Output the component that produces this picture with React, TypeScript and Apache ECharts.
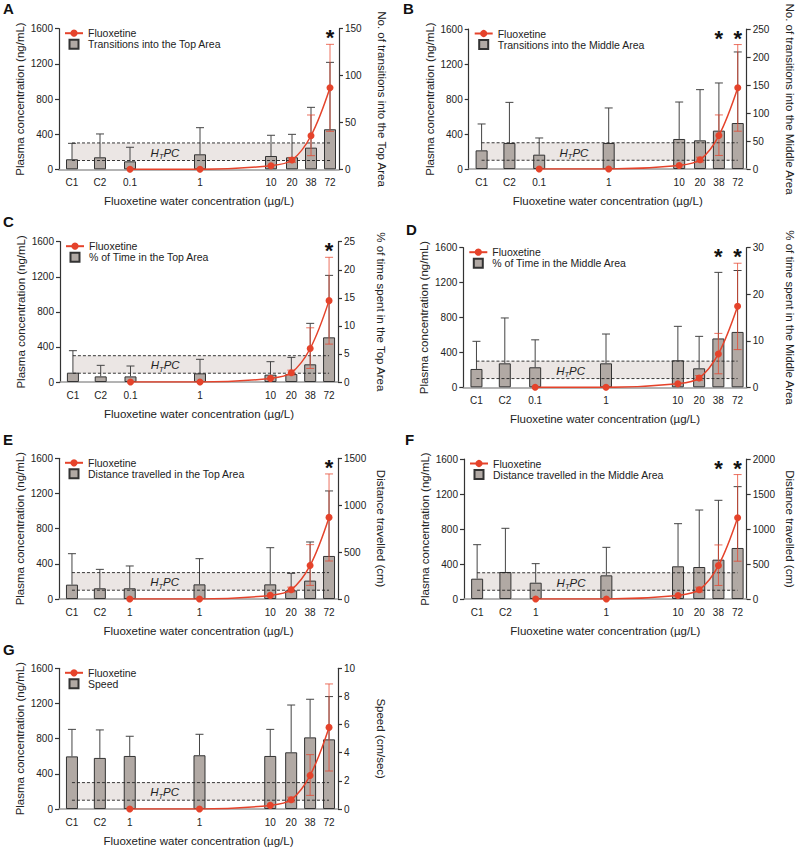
import React, { useEffect, useRef } from 'react';
import * as echarts from 'echarts';

// ---------- data ----------
const categories = ['C1', 'C2', '0.1', '1', '10', '20', '38', '72'];
const categoriesAlt = ['C1', 'C2', '1', '1', '10', '20', '38', '72'];
// position of each concentration group along the x axis (axis units 0..28)
const xPos = [1.3, 4.1, 7.1, 14.1, 21.2, 23.3, 25.2, 27.1];

const fluoxetine = [null, null, 0, 0, 41, 106, 382, 928];
const fluoxetineLow = [null, null, null, null, null, 80, 155, 432];
const fluoxetineHigh = [null, null, null, null, null, 135, 618, 1422];
const htpcRange = [100, 300];
const plasmaTicks = { min: 0, max: 1600, interval: 400 };

// A: transitions into the top area
const transTopMean = [10.7, 12.8, 8.5, 16, 14.2, 12.8, 23.1, 42.7];
const transTopUpper = [27.7, 37.7, 23.5, 44.4, 36.3, 37.3, 66.1, 114.1];
const transTopSig = ['72'];
// B: transitions into the middle area
const transMidMean = [33.3, 46.4, 25.6, 46.4, 53.6, 51.2, 68.5, 82.1];
const transMidUpper = [80.4, 119, 55.4, 109, 119.6, 141.7, 153.6, 209];
const transMidSig = ['38', '72'];
// C: % time in top area
const timeTopMean = [1.66, 1.0, 1.0, 1.54, 1.31, 1.43, 3.15, 7.96];
const timeTopUpper = [5.58, 2.97, 2.85, 4.04, 3.62, 4.39, 10.45, 19.0];
const timeTopSig = ['72'];
// D: % time in middle area
const timeMidMean = [3.94, 5.15, 4.3, 5.15, 5.8, 4.08, 10.5, 11.9];
const timeMidUpper = [9.88, 14.9, 10.2, 11.45, 13.1, 10.95, 24.7, 25.1];
const timeMidSig = ['38', '72'];
// E: distance travelled in top area
const distTopMean = [153, 114, 114, 156, 156, 92, 196, 459];
const distTopUpper = [483, 316, 352, 430, 547, 274, 608, 1152];
const distTopSig = ['72'];
// F: distance travelled in middle area
const distMidMean = [290, 386, 233, 338, 467, 457, 562, 729];
const distMidUpper = [776, 1010, 505, 738, 1076, 1271, 1410, 1605];
const distMidSig = ['38', '72'];
// G: speed
const speedMean = [3.74, 3.63, 3.77, 3.82, 3.77, 4.03, 5.09, 4.95];
const speedUpper = [5.66, 5.62, 5.17, 5.31, 5.66, 7.39, 7.8, 7.99];
const speedSig: string[] = [];

const panels = [
  { letter: 'A', labels: categories, mean: transTopMean, upper: transTopUpper, sig: transTopSig, rMax: 150, rInt: 50,
    rName: 'No. of transitions into the Top Area', legend: 'Transitions into the Top Area',
    grid: { left: 59, top: 28.7, width: 280, height: 140.6 }, lx: 3, ly: 1 },
  { letter: 'B', labels: categories, mean: transMidMean, upper: transMidUpper, sig: transMidSig, rMax: 250, rInt: 50,
    rName: 'No. of transitions into the Middle Area', legend: 'Transitions into the Middle Area',
    grid: { left: 468.7, top: 29, width: 278, height: 140 }, lx: 403, ly: 1 },
  { letter: 'C', labels: categories, mean: timeTopMean, upper: timeTopUpper, sig: timeTopSig, rMax: 25, rInt: 5,
    rName: '% of time spent in the Top Area', legend: '% of Time in the Top Area',
    grid: { left: 60, top: 241.7, width: 278, height: 140.3 }, lx: 3, ly: 214 },
  { letter: 'D', labels: categories, mean: timeMidMean, upper: timeMidUpper, sig: timeMidSig, rMax: 30, rInt: 10,
    rName: '% of time spent in the Middle Area', legend: '% of Time in the Middle Area',
    grid: { left: 463.3, top: 247.7, width: 283.4, height: 139.6 }, lx: 406, ly: 222 },
  { letter: 'E', labels: categoriesAlt, mean: distTopMean, upper: distTopUpper, sig: distTopSig, rMax: 1500, rInt: 500,
    rName: 'Distance travelled (cm)', legend: 'Distance travelled in the Top Area',
    grid: { left: 59, top: 458.3, width: 279, height: 140.7 }, lx: 3, ly: 432 },
  { letter: 'F', labels: categoriesAlt, mean: distMidMean, upper: distMidUpper, sig: distMidSig, rMax: 2000, rInt: 500,
    rName: 'Distance travelled (cm)', legend: 'Distance travelled in the Middle Area',
    grid: { left: 464, top: 459, width: 282.7, height: 140 }, lx: 405, ly: 432 },
  { letter: 'G', labels: categoriesAlt, mean: speedMean, upper: speedUpper, sig: speedSig, rMax: 10, rInt: 2,
    rName: 'Speed (cm/sec)', legend: 'Speed',
    grid: { left: 59, top: 668.3, width: 279, height: 140.7 }, lx: 3, ly: 642 },
];

const RED = '#e5432b';
const BAR_FILL = '#b1a9a4';
const BAND = '#ebe6e4';
const FONT = '"Liberation Sans", Arial, Helvetica, sans-serif';
const plain = (v: number) => String(v);

function buildOption() {
  const grids: any[] = [];
  const xAxes: any[] = [];
  const yAxes: any[] = [];
  const series: any[] = [];
  const legends: any[] = [];
  const titles: any[] = [];

  panels.forEach((p, i) => {
    grids.push({ ...p.grid, containLabel: false });
    titles.push({ text: p.letter, left: p.lx, top: p.ly, textStyle: { fontSize: 15, fontWeight: 'bold', color: '#111', fontFamily: FONT }, padding: 0 });
    const labels = p.labels;
    xAxes.push({
      gridIndex: i, type: 'value', min: 0, max: 28,
      axisLine: { show: true, onZero: false, lineStyle: { color: '#9a9a9a', width: 1.5 } },
      axisTick: { show: false }, splitLine: { show: false },
      axisLabel: {
        customValues: xPos,
        formatter: (v: number) => { const k = xPos.indexOf(v); return k >= 0 ? labels[k] : ''; },
        fontSize: 10, color: '#222', margin: 8, fontFamily: FONT,
      },
      name: 'Fluoxetine water concentration (µg/L)', nameLocation: 'middle', nameGap: 26,
      nameTextStyle: { fontSize: 11.5, color: '#222', fontFamily: FONT },
    });
    yAxes.push({
      gridIndex: i, type: 'value', position: 'left', ...plasmaTicks,
      axisLine: { show: true, lineStyle: { color: '#333', width: 1.2 } },
      axisTick: { show: true, length: 4, lineStyle: { color: '#333', width: 1.2 } },
      splitLine: { show: false },
      axisLabel: { fontSize: 10, color: '#222', margin: 6, fontFamily: FONT, formatter: plain },
      name: 'Plasma concentration (ng/mL)', nameLocation: 'middle', nameGap: 33, nameRotate: 90,
      nameTextStyle: { fontSize: 11.5, color: '#222', fontFamily: FONT },
    });
    yAxes.push({
      gridIndex: i, type: 'value', position: 'right', min: 0, max: p.rMax, interval: p.rInt,
      axisLine: { show: true, lineStyle: { color: '#333', width: 1.2 } },
      axisTick: { show: true, length: 4, lineStyle: { color: '#333', width: 1.2 } },
      splitLine: { show: false },
      axisLabel: { fontSize: 10, color: '#222', margin: 6, fontFamily: FONT, formatter: plain },
      name: p.rName, nameLocation: 'middle', nameGap: 37, nameRotate: -90,
      nameTextStyle: { fontSize: 11.5, color: '#222', fontFamily: FONT },
    });
    const yl = 2 * i, yr = 2 * i + 1;

    // HTPC band (behind bars)
    series.push({
      type: 'custom', xAxisIndex: i, yAxisIndex: yl, z: 0, silent: true,
      data: [[xPos[0], xPos[xPos.length - 1], htpcRange[0], htpcRange[1]]],
      renderItem: (params: any, api: any) => {
        const a = api.coord([api.value(0), api.value(3)]);
        const b = api.coord([api.value(1), api.value(2)]);
        return { type: 'rect', shape: { x: a[0], y: a[1], width: b[0] - a[0], height: b[1] - a[1] }, style: { fill: BAND } };
      },
    });
    // bars
    series.push({
      name: p.legend, type: 'bar', xAxisIndex: i, yAxisIndex: yr, z: 2, barWidth: 12,
      data: xPos.map((x, k) => [x, p.mean[k]]),
      itemStyle: { color: BAR_FILL, borderColor: '#333', borderWidth: 1 },
    });
    // bar error bars (upper only)
    series.push({
      type: 'custom', xAxisIndex: i, yAxisIndex: yr, z: 3, silent: true,
      data: xPos.map((x, k) => [x, p.mean[k], p.upper[k]]),
      renderItem: (params: any, api: any) => {
        const p0 = api.coord([api.value(0), api.value(1)]);
        const p1 = api.coord([api.value(0), api.value(2)]);
        const st = { stroke: '#444', lineWidth: 1 };
        return { type: 'group', children: [
          { type: 'line', shape: { x1: p0[0], y1: p0[1], x2: p1[0], y2: p1[1] }, style: st },
          { type: 'line', shape: { x1: p1[0] - 4, y1: p1[1], x2: p1[0] + 4, y2: p1[1] }, style: st },
        ] };
      },
    });
    // dashed HTPC lines + label (above bars)
    series.push({
      type: 'custom', xAxisIndex: i, yAxisIndex: yl, z: 4, silent: true,
      data: [[xPos[0], xPos[xPos.length - 1], htpcRange[0], htpcRange[1], (xPos[2] + xPos[3]) / 2]],
      renderItem: (params: any, api: any) => {
        const a = api.coord([api.value(0), api.value(3)]);
        const b = api.coord([api.value(1), api.value(2)]);
        const t = api.coord([api.value(4), (api.value(2) + api.value(3)) / 2]);
        const st = { stroke: '#222', lineWidth: 0.9, lineDash: [3, 2] };
        return { type: 'group', children: [
          { type: 'line', shape: { x1: a[0], y1: a[1], x2: b[0], y2: a[1] }, style: st },
          { type: 'line', shape: { x1: a[0], y1: b[1], x2: b[0], y2: b[1] }, style: st },
          { type: 'text', x: t[0], y: t[1] - 5, style: {
            text: '{a|H}{b|T}{a|PC}', align: 'center', verticalAlign: 'top', fill: '#222',
            rich: {
              a: { fontSize: 11.5, fontStyle: 'italic', fontFamily: FONT, verticalAlign: 'top' },
              b: { fontSize: 7.5, fontStyle: 'italic', fontFamily: FONT, verticalAlign: 'top', padding: [6, 0, 0, 0] },
            },
          } },
        ] };
      },
    });
    // fluoxetine error bars
    series.push({
      type: 'custom', xAxisIndex: i, yAxisIndex: yl, z: 5, silent: true,
      data: xPos.map((x, k) => [x, fluoxetineLow[k], fluoxetineHigh[k]]).filter((d) => d[1] != null),
      renderItem: (params: any, api: any) => {
        const p0 = api.coord([api.value(0), api.value(1)]);
        const p1 = api.coord([api.value(0), api.value(2)]);
        const st = { stroke: 'rgba(229,67,43,0.75)', lineWidth: 1 };
        return { type: 'group', children: [
          { type: 'line', shape: { x1: p0[0], y1: p0[1], x2: p1[0], y2: p1[1] }, style: st },
          { type: 'line', shape: { x1: p0[0] - 4, y1: p0[1], x2: p0[0] + 4, y2: p0[1] }, style: st },
          { type: 'line', shape: { x1: p1[0] - 4, y1: p1[1], x2: p1[0] + 4, y2: p1[1] }, style: st },
        ] };
      },
    });
    // fluoxetine line
    series.push({
      name: 'Fluoxetine', type: 'line', xAxisIndex: i, yAxisIndex: yl, z: 6,
      data: xPos.map((x, k) => [x, fluoxetine[k]]).filter((d) => d[1] != null),
      smooth: 0.35, symbol: 'circle', symbolSize: 7,
      itemStyle: { color: RED }, lineStyle: { color: RED, width: 1.5 },
    });
    // significance asterisks
    if (p.sig.length) {
      series.push({
        type: 'custom', xAxisIndex: i, yAxisIndex: yl, z: 7, silent: true,
        data: p.sig.map((s) => [xPos[categories.lastIndexOf(s)], plasmaTicks.max]),
        renderItem: (params: any, api: any) => {
          const c = api.coord([api.value(0), api.value(1)]);
          return { type: 'text', x: c[0], y: c[1] - 2, style: { text: '*', fontSize: 22, fontWeight: 'bold', fontFamily: FONT, fill: '#111', align: 'center', verticalAlign: 'top' } };
        },
      });
    }
    legends.push({
      orient: 'vertical', left: p.grid.left + 5, top: p.grid.top - 1, itemWidth: 18, itemHeight: 9, itemGap: 0,
      padding: 0, selectedMode: false,
      textStyle: { fontSize: 10.5, color: '#222', fontFamily: FONT },
      data: [{ name: 'Fluoxetine' }, { name: p.legend, icon: 'path://M0,0H10V10H0Z' }],
    });
  });

  return {
    animation: false,
    backgroundColor: '#fff',
    textStyle: { fontFamily: FONT },
    title: titles,
    grid: grids,
    xAxis: xAxes,
    yAxis: yAxes,
    legend: legends,
    series,
  };
}

export default function App() {
  const ref = useRef<HTMLDivElement>(null);
  useEffect(() => {
    if (!ref.current) return;
    const chart = echarts.init(ref.current, undefined, { renderer: 'svg' });
    chart.setOption(buildOption() as any);
    return () => chart.dispose();
  }, []);
  return <div ref={ref} style={{ position: 'absolute', left: 0, top: 0, width: 797, height: 849 }} />;
}
